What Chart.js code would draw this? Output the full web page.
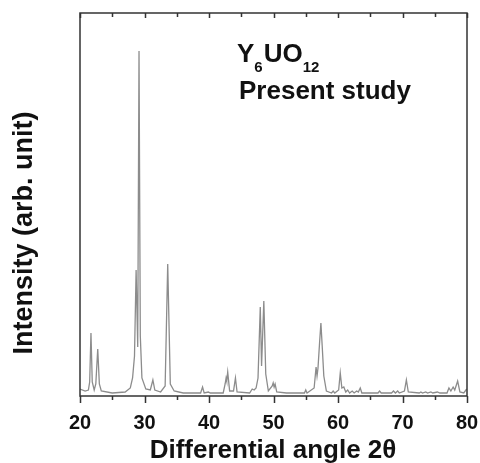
<!DOCTYPE html>
<html>
<head>
<meta charset="utf-8">
<script src="https://cdn.jsdelivr.net/npm/chart.js@4/dist/chart.umd.min.js"></script>
<style>
  html, body { margin: 0; padding: 0; background: #fff; }
  #wrap { width: 480px; height: 463px; }
</style>
</head>
<body>
<div id="wrap"><canvas id="xrd"></canvas></div>
<script>
// XRD pattern (2theta in degrees, intensity in arb. units)
var twoTheta = [
  20.0, 20.8, 21.3, 21.5, 21.7, 21.9, 22.2, 22.45, 22.75, 23.0, 23.3, 25.0, 27.0, 27.8, 28.15, 28.45,
  28.7, 28.85, 28.95, 29.15, 29.35, 29.6, 30.2, 30.9, 31.3, 31.6, 32.5, 33.2, 33.6, 34.0, 34.6, 36.0,
  38.7, 39.0, 39.25, 39.9, 40.2, 42.2, 42.5, 42.65, 42.75, 42.9, 43.2, 43.8, 44.1, 44.35, 46.3, 46.7,
  47.0, 47.3, 47.6, 47.95, 48.15, 48.5, 48.8, 49.2, 49.8, 49.95, 50.1, 50.25, 50.5, 52.0, 54.8, 55.0,
  55.2, 56.3, 56.6, 56.75, 56.9, 57.15, 57.35, 57.55, 57.8, 58.2, 59.0, 59.25, 59.5, 60.1, 60.35, 60.6,
  60.9, 61.2, 61.5, 61.8, 62.2, 62.5, 62.9, 63.15, 63.45, 63.7, 66.2, 66.45, 66.7, 68.3, 68.6, 68.9,
  69.25, 69.5, 70.3, 70.6, 70.9, 72.6, 72.85, 73.1, 73.6, 73.9, 74.4, 74.7, 75.4, 75.8, 76.9, 77.2,
  77.5, 77.85, 78.1, 78.55, 78.9, 79.5, 79.95
];
var intensity = [
  7, 5, 6, 14, 63, 14, 6, 12, 47, 12, 5, 3, 4, 8, 18, 40,
  126, 80, 49, 345, 60, 18, 7, 6, 16, 6, 4, 10, 132, 12, 5, 3,
  3, 9, 3, 4, 3, 3, 12, 18, 15, 24, 5, 5, 18, 4, 3, 7,
  6, 8, 18, 89, 30, 95, 22, 5, 10, 13, 9, 12, 4, 3, 3, 6,
  3, 8, 29, 20, 28, 54, 73, 50, 20, 5, 3, 5, 3, 6, 23, 8,
  9, 4, 6, 3, 5, 3, 5, 4, 8, 3, 3, 5, 3, 3, 5, 3,
  5, 3, 5, 16, 4, 3, 4, 3, 4, 3, 4, 3, 4, 3, 3, 8,
  5, 9, 6, 15, 4, 3, 7
];
var xTickLabels = [20, 30, 40, 50, 60, 70, 80];

var points = twoTheta.map(function (t, i) { return { x: t, y: intensity[i] }; });

// frame, tick marks, labels
var framePlugin = {
  id: 'framePlugin',
  afterDraw: function (chart) {
    var ctx = chart.ctx;
    var a = chart.chartArea;
    var xs = chart.scales.x;
    ctx.save();
    ctx.strokeStyle = '#333';
    ctx.lineWidth = 1.5;
    ctx.strokeRect(a.left, a.top, a.right - a.left, a.bottom - a.top);
    for (var v = 20; v <= 80; v += 5) {
      var px = Math.round(xs.getPixelForValue(v)) + 0.5;
      var major = v % 10 === 0;
      ctx.beginPath();
      ctx.moveTo(px, a.bottom);
      ctx.lineTo(px, a.bottom + (major ? 7 : 4));
      ctx.moveTo(px, a.top);
      ctx.lineTo(px, a.top + (major ? 5 : 4));
      ctx.stroke();
    }

    ctx.fillStyle = '#111';
    // y title
    ctx.save();
    ctx.translate(32, 233);
    ctx.rotate(-Math.PI / 2);
    ctx.font = 'bold 27px "Liberation Sans", Arial, sans-serif';
    ctx.textAlign = 'center';
    ctx.textBaseline = 'alphabetic';
    ctx.fillText('Intensity (arb. unit)', 0, 0);
    ctx.restore();

    // x title
    ctx.font = 'bold 26px "Liberation Sans", Arial, sans-serif';
    ctx.textAlign = 'center';
    ctx.textBaseline = 'alphabetic';
    ctx.fillText('Differential angle 2\u03b8', 273, 458);

    // annotation
    ctx.textAlign = 'left';
    var big = 'bold 26px "Liberation Sans", Arial, sans-serif';
    var small = 'bold 15px "Liberation Sans", Arial, sans-serif';
    var x = 237, y = 62;
    ctx.font = big; ctx.fillText('Y', x, y); x += ctx.measureText('Y').width;
    ctx.font = small; ctx.fillText('6', x, y + 10); x += ctx.measureText('6').width + 1;
    ctx.font = big; ctx.fillText('UO', x, y); x += ctx.measureText('UO').width;
    ctx.font = small; ctx.fillText('12', x, y + 10);
    ctx.font = big;
    ctx.fillText('Present study', 239, 99);
    ctx.restore();
  }
};

new Chart(document.getElementById('xrd').getContext('2d'), {
  type: 'scatter',
  data: {
    datasets: [{
      data: points,
      showLine: true,
      borderColor: '#8c8c8c',
      borderWidth: 1.3,
      pointRadius: 0,
      tension: 0
    }]
  },
  options: {
    responsive: true,
    maintainAspectRatio: false,
    animation: false,
    layout: { padding: { top: 13, right: 13, left: 0, bottom: 0 } },
    plugins: {
      legend: { display: false },
      tooltip: { enabled: false }
    },
    scales: {
      x: {
        type: 'linear',
        min: 20,
        max: 80,
        grid: { display: false, tickLength: 15 },
        border: { display: false },
        ticks: {
          stepSize: 10,
          autoSkip: false,
          maxRotation: 0,
          padding: 0,
          color: '#111',
          font: { family: '"Liberation Sans", Arial, sans-serif', size: 20, weight: 'bold' },
          callback: function (v) { return xTickLabels.indexOf(v) >= 0 ? String(v) : ''; }
        },
        afterFit: function (scale) { scale.height = 67; }
      },
      y: {
        min: 0,
        max: 383,
        grid: { display: false },
        border: { display: false },
        ticks: { display: false },
        afterFit: function (scale) { scale.width = 80; }
      }
    }
  },
  plugins: [framePlugin]
});
</script>
</body>
</html>
